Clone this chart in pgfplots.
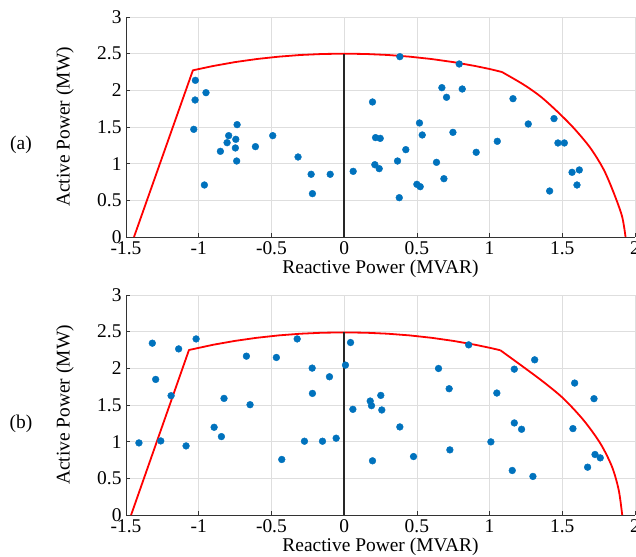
\documentclass[border=0pt]{standalone}
\usepackage{pgfplots}
\pgfplotsset{compat=1.18}
\usepackage{fontspec}
\setmainfont{Liberation Serif}
\definecolor{mblue}{rgb}{0,0.447,0.741}
\pgfplotsset{
  cap/.style={
    anchor=south west,
    scale only axis, width=509bp, height=220bp,
    xmin=-1.5, xmax=2, ymin=0, ymax=3,
    xtick={-1.5,-1,-0.5,0,0.5,1,1.5,2},
    ytick={0,0.5,1,1.5,2,2.5,3},
    xticklabels={-1.5,-1,-0.5,0,0.5,1,1.5,2},
    yticklabels={0,0.5,1,1.5,2,2.5,3},
    axis x line*=bottom, axis y line*=left,
    axis line style={black!80, line width=0.8bp, -},
    tick align=inside, major tick length=4bp,
    tick style={black!80, line width=0.6bp},
    grid=major, major grid style={black!13, line width=0.6bp},
    ticklabel style={font=\fontsize{19.5}{22}\selectfont},
    /pgf/number format/assume math mode=true,
    xticklabel style={yshift=-1bp},
    yticklabel style={xshift=-1bp},
    label style={font=\fontsize{19.5}{22}\selectfont},
    xlabel={Reactive Power (MVAR)},
    ylabel={Active Power (MW)},
    xlabel style={at={(axis description cs:0.5,0)}, anchor=center, yshift=-32bp},
    ylabel style={at={(axis description cs:0,0.5)}, anchor=center, yshift=61bp},
    clip=false,
  }
}
\begin{document}
\begin{tikzpicture}[x=1bp,y=1bp]
\useasboundingbox (0,0) rectangle (636,557);
% ---------- (a) ----------
\begin{axis}[cap, at={(126bp,320bp)}]
\addplot[red, line width=1.8bp, line join=round] coordinates {
(-1.445,0) (-1.04,2.273) (-0.9,2.332) (-0.75,2.385) (-0.6,2.427) (-0.45,2.459) (-0.3,2.482) (-0.15,2.4955) (0,2.5)
(0.15,2.4955) (0.3,2.482) (0.45,2.459) (0.6,2.427) (0.75,2.385) (0.9,2.332) (1.0,2.291) (1.085,2.25)
};
\addplot[red, line width=1.8bp, smooth, tension=0.5] coordinates {
(1.085,2.25) (1.234,2.078) (1.349,1.918) (1.464,1.714) (1.578,1.487) (1.693,1.214) (1.785,0.918) (1.854,0.600) (1.911,0.281) (1.935,0)
};
\addplot[black!85, line width=1.3bp] coordinates {(0,0) (0,2.5)};
\addplot[mblue, only marks, mark=*, mark size=3.4bp] coordinates {
(-1.023,2.136) (-1.025,1.868) (-0.950,1.968) (-1.034,1.468) (-0.736,1.532) (-0.794,1.382) (-0.745,1.332)
(-0.805,1.286) (-0.748,1.214) (-0.851,1.168) (-0.610,1.232) (-0.491,1.382) (-0.739,1.036) (-0.961,0.709)
(-0.317,1.091) (-0.227,0.855) (-0.096,0.855) (-0.218,0.591) (0.062,0.895) (0.195,1.841) (0.216,1.355)
(0.248,1.345) (0.211,0.986) (0.241,0.932) (0.383,2.459) (0.791,2.359) (0.672,2.036) (0.812,2.018)
(0.704,1.905) (1.161,1.886) (0.518,1.555) (0.537,1.391) (0.748,1.427) (1.266,1.541) (1.443,1.614)
(1.053,1.305) (1.470,1.282) (1.514,1.282) (0.424,1.191) (0.908,1.155) (0.367,1.036) (0.635,1.018)
(1.567,0.882) (1.617,0.914) (0.686,0.795) (0.500,0.718) (0.523,0.686) (1.413,0.627) (1.601,0.709) (0.379,0.536)
};
\end{axis}
% ---------- (b) ----------
\begin{axis}[cap, at={(126bp,42bp)}]
\addplot[red, line width=1.8bp, line join=round] coordinates {
(-1.465,0) (-1.067,2.250) (-0.9,2.3217) (-0.75,2.3744) (-0.6,2.4166) (-0.45,2.449) (-0.3,2.4719) (-0.15,2.4855) (0,2.49)
(0.15,2.4855) (0.3,2.4719) (0.45,2.449) (0.6,2.4166) (0.75,2.3744) (0.9,2.3217) (1.0,2.2804) (1.074,2.2465)
};
\addplot[red, line width=1.8bp, smooth, tension=0.5] coordinates {
(1.074,2.2465) (1.234,2.016) (1.372,1.812) (1.509,1.586) (1.647,1.291) (1.762,0.975) (1.842,0.657) (1.888,0.340) (1.912,0)
};
\addplot[black!85, line width=1.3bp] coordinates {(0,0) (0,2.49)};
\addplot[mblue, only marks, mark=*, mark size=3.4bp] coordinates {
(-1.411,0.983) (-1.319,2.343) (-1.296,1.849) (-1.261,1.010) (-1.190,1.627) (-1.138,2.265) (-1.087,0.942)
(-1.018,2.401) (-0.894,1.196) (-0.844,1.069) (-0.826,1.590) (-0.672,2.166) (-0.647,1.504) (-0.466,2.148)
(-0.429,0.757) (-0.323,2.401) (-0.220,2.003) (-0.218,1.658) (-0.273,1.006) (-0.149,1.006) (-0.101,1.885)
(-0.055,1.047) (0.009,2.044) (0.044,2.352) (0.060,1.441) (0.179,1.554) (0.188,1.491) (0.195,0.739)
(0.252,1.631) (0.259,1.432) (0.383,1.201) (0.477,0.797) (0.649,1.998) (0.722,1.722) (0.727,0.888)
(0.856,2.320) (1.009,0.997) (1.050,1.663) (1.170,1.989) (1.170,1.255) (1.156,0.607) (1.220,1.169)
(1.310,2.116) (1.298,0.526) (1.585,1.799) (1.573,1.178) (1.718,1.586) (1.674,0.652) (1.725,0.825) (1.761,0.779)
};
\end{axis}
\node[font=\fontsize{19.5}{22}\selectfont] at (21,412) {(a)};
\node[font=\fontsize{19.5}{22}\selectfont] at (21,133) {(b)};
\end{tikzpicture}
\end{document}
